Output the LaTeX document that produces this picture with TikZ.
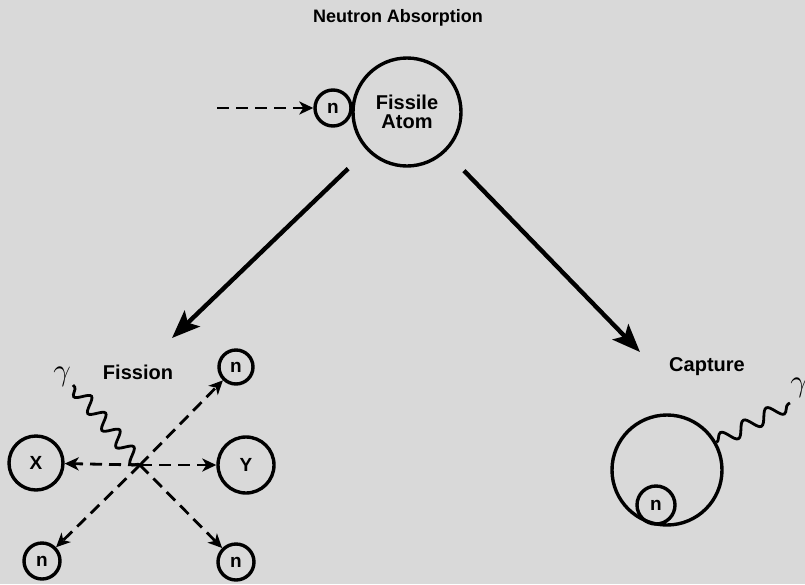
\documentclass[tikz,border=0pt]{standalone}
\usepackage{fontspec}
\setmainfont{Liberation Sans}
\usetikzlibrary{arrows.meta,decorations.pathmorphing}
\begin{document}
\begin{tikzpicture}[x=1pt,y=-1pt,
  atom/.style={circle,draw,line width=3.4pt,inner sep=0pt,font=\fontsize{19}{20}\selectfont\bfseries},
  lbl/.style={font=\fontsize{20}{20}\selectfont\bfseries,inner sep=0pt,align=center},
  gam/.style={inner sep=0pt,font=\fontsize{20}{20}\selectfont},
  dasharrow/.style={line width=2.8pt,dash pattern=on 12pt off 7pt,-{Stealth[length=14pt,width=13pt,inset=4pt]}},
  bigarrow/.style={line width=4.4pt,-{Stealth[length=28pt,width=22pt,inset=6pt]}},
  wave/.style={line width=2.8pt,decorate,decoration={snake,amplitude=7pt,segment length=22pt}}]
\fill[black!15] (0,0) rectangle (805,584);
\useasboundingbox (0,0) rectangle (805,584);
% title
\node[lbl,font=\fontsize{18}{18}\selectfont\bfseries] (title) at (398,18) {Neutron Absorption};
% fissile atom
\node[atom,minimum size=108pt,font=\fontsize{20}{19}\selectfont\bfseries,align=center] (fa) at (407,112) {Fissile\\Atom};
\node[atom,minimum size=36pt] (n0) at (333,108) {n};
\coordinate (src) at (217,108);
\draw[dasharrow] (src) -- (n0);
% big arrows
\coordinate (endL) at (172,338);
\coordinate (endR) at (640,352);
\draw[bigarrow,shorten <=26pt] (fa) -- (endL);
\draw[bigarrow,shorten <=26pt] (fa) -- (endR);
% fission
\node[lbl] (fis) at (138,372) {Fission};
\coordinate (fc) at (140,465);
\node[atom,minimum size=54pt] (X) at (36,463) {X};
\node[atom,minimum size=56pt] (Y) at (246,465) {Y};
\node[atom,minimum size=34pt] (n1) at (236,367) {n};
\node[atom,minimum size=36pt] (n2) at (42,561) {n};
\node[atom,minimum size=36pt] (n3) at (236,562) {n};
\draw[dasharrow] (fc) -- (X);
\draw[dasharrow] (fc) -- (Y);
\draw[dasharrow] (fc) -- (n1);
\draw[dasharrow] (fc) -- (n2);
\draw[dasharrow] (fc) -- (n3);
\coordinate (g1) at (73,385);
\draw[wave] (fc) -- (g1);
\node[gam] (gam1) at (62,377) {\scalebox{1.5}{$\gamma$}};
% capture
\node[lbl] (cap) at (707,367) {Capture};
\node[atom,minimum size=110pt] (C) at (667,470) {};
\node[atom,minimum size=38pt] (n4) at (656,505) {n};
\coordinate (g2) at (790,403);
\draw[wave,decoration={snake,amplitude=7pt,segment length=26pt}] (C.29) -- (g2);
\node[gam] (gam2) at (799,388) {\scalebox{1.5}{$\gamma$}};
\end{tikzpicture}
\end{document}
